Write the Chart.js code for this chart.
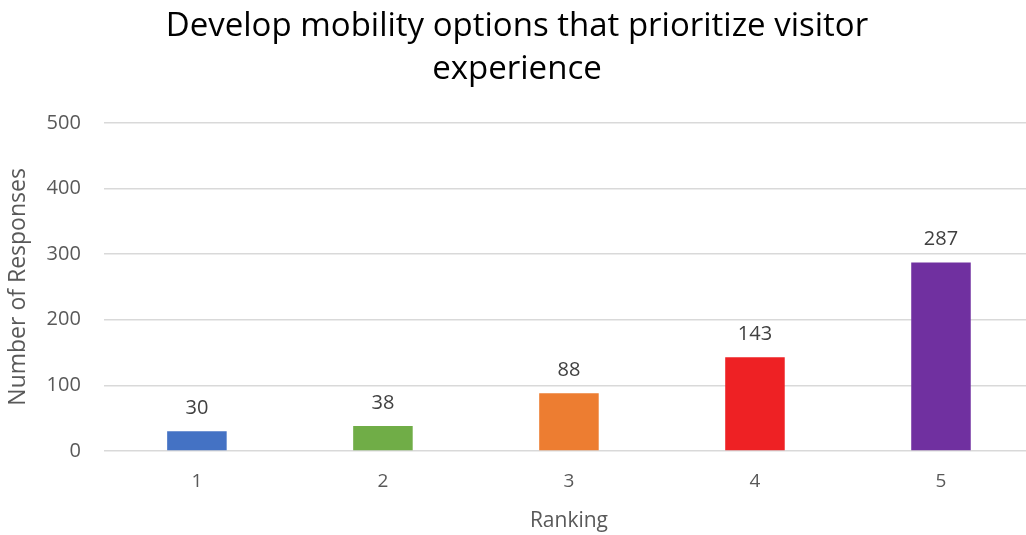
<!DOCTYPE html>
<html>
<head>
<meta charset="utf-8">
<script src="https://cdn.jsdelivr.net/npm/chart.js@4/dist/chart.umd.min.js"></script>
<style>
    html, body { margin: 0; padding: 0; background: #fff; overflow: hidden; }
    #wrap { width: 1034px; height: 535px; }
</style>
</head>
<body>
<div id="wrap"><canvas id="chart"></canvas></div>
<script>
const categories = ['1', '2', '3', '4', '5'];
const responses = [30, 38, 88, 143, 287];
const barColors = ['#4472C4', '#70AD47', '#ED7D31', '#EE2124', '#7030A0'];
const titleLines = ['Develop mobility options that prioritize visitor', 'experience'];

const fontFamily = "'Open Sans', 'Liberation Sans', sans-serif";

/**
 * Value labels above each bar
 */
const valueLabels = {
    id: 'valueLabels',
    afterDatasetsDraw(chart) {
        const ctx = chart.ctx;
        const meta = chart.getDatasetMeta(0);
        ctx.save();
        ctx.font = '20px ' + fontFamily;
        ctx.fillStyle = '#404040';
        ctx.textAlign = 'center';
        ctx.textBaseline = 'bottom';
        meta.data.forEach(function (bar, i) {
            ctx.fillText(responses[i], bar.x, bar.y - 13);
        });
        ctx.restore();
    }
};

new Chart(document.getElementById('chart'), {
    type: 'bar',
    data: {
        labels: categories,
        datasets: [{
            data: responses,
            backgroundColor: barColors,
            barPercentage: 0.32,
            categoryPercentage: 1
        }]
    },
    options: {
        responsive: true,
        maintainAspectRatio: false,
        animation: false,
        layout: { padding: { left: 0, right: 0, top: 5, bottom: 0 } },
        plugins: {
            legend: { display: false },
            tooltip: { enabled: false },
            title: {
                display: true,
                text: titleLines,
                color: '#000',
                font: { family: fontFamily, size: 33, weight: 'normal', lineHeight: 1.3 },
                padding: { top: 0, bottom: 32 }
            }
        },
        scales: {
            x: {
                grid: { display: false },
                border: { display: false },
                ticks: { color: '#595959', font: { family: fontFamily, size: 19 }, padding: 11 },
                title: {
                    display: true,
                    text: 'Ranking',
                    color: '#595959',
                    font: { family: fontFamily, size: 21 },
                    padding: { top: 5, bottom: 1 }
                }
            },
            y: {
                min: 0,
                max: 500,
                ticks: { stepSize: 100, color: '#595959', font: { family: fontFamily, size: 20 }, padding: 23 },
                grid: { color: '#D9D9D9', lineWidth: 1.5, drawTicks: false },
                border: { display: false },
                title: {
                    display: true,
                    text: 'Number of Responses',
                    color: '#595959',
                    font: { family: fontFamily, size: 23 },
                    padding: { top: 5, bottom: -9 }
                }
            }
        }
    },
    plugins: [valueLabels]
});
</script>
</body>
</html>
